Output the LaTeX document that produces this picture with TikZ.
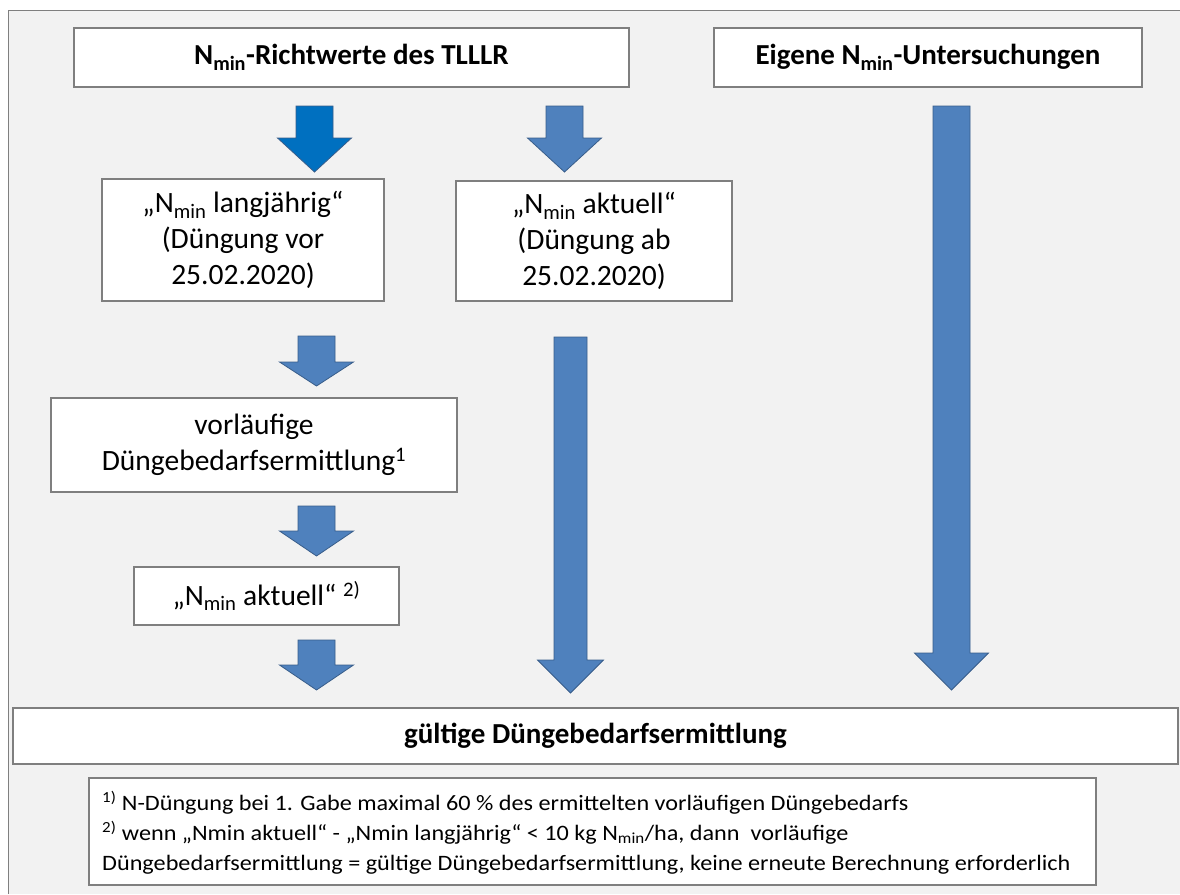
\documentclass[tikz,border=0pt]{standalone}
\usepackage{fontspec}
\setmainfont{Carlito}
\newfontfamily\footfont[FakeStretch=1.1]{Carlito}
\definecolor{bg}{HTML}{F2F2F2}
\definecolor{bordergray}{HTML}{7F7F7F}
\definecolor{arrowfill}{HTML}{4F81BD}
\definecolor{arrowdark}{HTML}{0070C0}
\definecolor{arrowline}{HTML}{385D8A}
\tikzset{
  box/.style={draw=bordergray, fill=white, line width=1.3pt, inner sep=0pt, align=center,
    font=\fontsize{29.5}{36}\selectfont},
  titlebox/.style={box, font=\fontsize{29}{35}\selectfont\bfseries},
  blockarrow/.style={draw=arrowline, line width=0.8pt, fill=arrowfill, line join=miter},
}
% cx, shaft half width, head half width, top, head base, tip, extra style
\newcommand\barrow[7]{%
  \draw[blockarrow,#7] (#1-#2,#4) -- (#1+#2,#4) -- (#1+#2,#5) -- (#1+#3,#5) -- (#1,#6)
    -- (#1-#3,#5) -- (#1-#2,#5) -- cycle;}
\begin{document}
\begin{tikzpicture}[x=1pt,y=-1pt]
\useasboundingbox (0,0) rectangle (1180,894);
\fill[white] (0,0) rectangle (1180,894);
\fill[bg] (8,10) rectangle (1180,894);
\draw[bordergray, line width=1pt] (8,894) -- (8,10) -- (1180,10);

% top boxes
\node[titlebox, minimum width=555pt, minimum height=59pt] (richt) at (351.5,57.5)
  {N\textsubscript{min}-Richtwerte des TLLLR};
\node[titlebox, minimum width=428pt, minimum height=59pt] (eigen) at (928,57.5)
  {Eigene N\textsubscript{min}-Untersuchungen};

% second row
\node[box, minimum width=282pt, minimum height=122pt] (lang) at (243,240)
  {„N\textsubscript{min} langjährig“\\(Düngung vor\\25.02.2020)};
\node[box, minimum width=276pt, minimum height=120pt] (akt) at (594,241)
  {„N\textsubscript{min} aktuell“\\(Düngung ab\\25.02.2020)};

% left chain
\node[box, minimum width=406pt, minimum height=94pt] (vorl) at (254,445)
  {vorläufige\\Düngebedarfsermittlung\textsuperscript{1}};
\node[box, minimum width=265pt, minimum height=58pt] (akt2) at (266.5,596)
  {„N\textsubscript{min} aktuell“ \textsuperscript{2)}};

% result
\node[titlebox, minimum width=1165pt, minimum height=56pt] (guelt) at (595.5,736)
  {gültige Düngebedarfsermittlung};

% footnotes
\node[box, minimum width=1007pt, minimum height=107pt] (foot) at (592.5,831.5) {};
\node[anchor=west, align=left, inner sep=0pt, font=\footfont\fontsize{22}{30}\selectfont] (foottext) at (102,833)
  {\textsuperscript{1)} N-Düngung bei 1. Gabe maximal 60 \% des ermittelten vorläufigen Düngebedarfs\\
   \textsuperscript{2)} wenn „Nmin aktuell“ - „Nmin langjährig“ < 10 kg N\textsubscript{min}/ha, dann\ \ vorläufige\\
   Düngebedarfsermittlung = gültige Düngebedarfsermittlung, keine erneute Berechnung erforderlich};

% block arrows
\barrow{314.5}{18.5}{37}{106}{138}{172}{fill=arrowdark}
\barrow{564.5}{18.5}{37}{106}{138}{172}{}
\barrow{316.5}{18.5}{37}{336}{362}{386}{}
\barrow{316.5}{18.5}{37}{506}{531}{556}{}
\barrow{316.5}{18.5}{37}{640}{665}{690}{}
\barrow{570.5}{16.5}{33}{337}{660}{693}{}
\barrow{951.5}{18.5}{37}{106}{653}{690}{}
\end{tikzpicture}
\end{document}
